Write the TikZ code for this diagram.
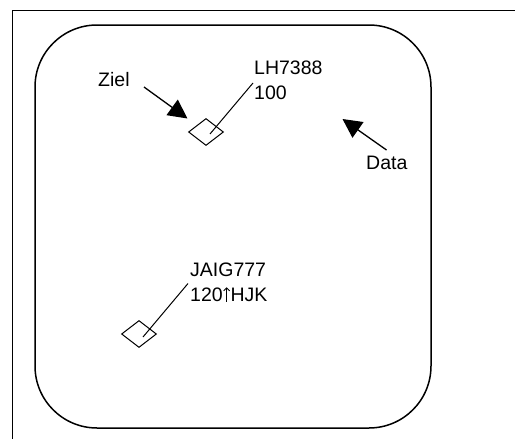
\documentclass[tikz,border=0pt]{standalone}
\usepackage{fontspec}
\setmainfont{Liberation Sans}
\usetikzlibrary{arrows.meta,shapes.geometric}
\newcommand{\uparr}{\hspace{0.5pt}\tikz[baseline=0pt,x=1pt,y=1pt]\draw[line width=0.8pt,-{Straight Barb[length=3pt,width=6pt]}] (0,0) -- (0,14.5);\hspace{0.5pt}}
\begin{document}
\begin{tikzpicture}[x=1pt,y=-1pt,
  frame/.style={line width=1pt},
  screen/.style={line width=1.5pt, rounded corners=62pt},
  target/.style={draw, shape=diamond, minimum width=35pt, minimum height=27pt, inner sep=0pt, line width=1pt},
  leader/.style={line width=1pt},
  pointer/.style={line width=1.3pt, -{Triangle[length=19pt,width=19pt]}},
  lbl/.style={inner sep=0pt, font=\fontsize{19.5}{25}\selectfont},
  blk/.style={lbl, align=left, anchor=north west}]
\useasboundingbox (0,0) rectangle (515,439);
% frame and screen
\draw[frame] (12,439) -- (12,10) -- (515,10);
\draw[screen] (35,25) rectangle (431,428);
% targets
\node[target] (d1) at (206,132) {};
\node[target] (d2) at (139,334) {};
% labels
\node[blk] (lh) at (254,61) {LH7388\\100};
\node[blk] (jaig) at (190,263) {JAIG777\\120\uparr HJK};
\node[lbl, anchor=base west] (ziel) at (98,86) {Ziel};
\node[lbl, anchor=base west] (data) at (366,169.5) {Data};
% leaders
\coordinate (l1) at (253,83);
\coordinate (l2) at (188,283.5);
\draw[leader] ([shift={(4,2)}]d1.center) -- (l1);
\draw[leader] ([shift={(4,3)}]d2.center) -- (l2);
% pointers
\coordinate (zt) at (144,87);
\coordinate (zh) at (187.5,118.5);
\coordinate (dt) at (386.5,150);
\coordinate (dh) at (342.5,119);
\draw[pointer] (zt) -- (zh);
\draw[pointer] (dt) -- (dh);
\end{tikzpicture}
\end{document}
